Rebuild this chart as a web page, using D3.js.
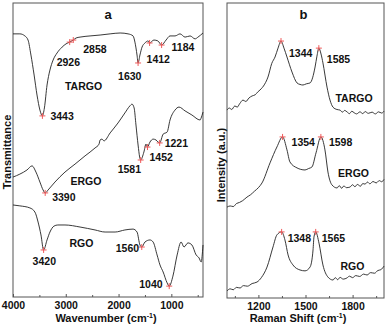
<!DOCTYPE html>
<html>
<head>
<meta charset="utf-8">
<script src="https://cdn.jsdelivr.net/npm/d3@7"></script>
<style>
body { margin: 0; background: #fff; }
text { font-family: Arial, "Liberation Sans", sans-serif; font-weight: bold; fill: #111; }
</style>
</head>
<body>
<svg width="387" height="327"></svg>
<script>
// panel a: FTIR, [wavenumber, transmittance (a.u.)]
var irTargo = [[4000,89.5],[3870,89.5],[3775,88.8],[3715,87.4],[3660,82.3],[3600,75.5],[3545,68.7],[3490,63.6],[3443,61.6],[3405,64.3],[3355,72.1],[3300,77.2],[3240,80.6],[3165,83.0],[3070,85.0],[2995,86.1],[2926,86.7],[2858,87.4],[2805,88.1],[2730,88.4],[2540,88.8],[2350,89.1],[2160,89.5],[1970,89.8],[1820,89.5],[1725,88.8],[1690,86.7],[1650,82.3],[1630,79.6],[1595,82.3],[1555,85.0],[1500,86.4],[1440,87.1],[1412,86.4],[1330,87.4],[1255,87.1],[1184,85.7],[1100,87.4],[1025,88.8],[930,88.8],[835,89.5],[740,88.4],[645,88.8],[550,87.8],[495,88.4],[400,89.8]];
var irErgo = [[4000,40.8],[3870,41.8],[3735,43.2],[3640,44.6],[3565,42.5],[3490,39.1],[3430,36.4],[3390,35.4],[3335,36.4],[3205,39.1],[3015,42.5],[2825,45.2],[2635,48.0],[2445,50.7],[2370,52.0],[2350,53.4],[2315,53.7],[2275,53.1],[2160,55.8],[2010,59.2],[1880,62.6],[1785,65.0],[1745,65.6],[1705,64.3],[1670,58.5],[1630,51.7],[1600,47.6],[1581,46.6],[1520,49.3],[1480,52.0],[1452,51.0],[1405,52.7],[1345,53.7],[1290,53.4],[1250,52.7],[1221,52.4],[1155,55.4],[1080,56.1],[1025,60.2],[930,63.6],[855,64.6],[740,63.3],[610,61.9],[455,60.2],[435,60.9],[400,62.9]];
var irRgo = [[4000,31.3],[3870,31.0],[3680,30.3],[3585,28.9],[3525,25.5],[3470,21.1],[3420,16.0],[3355,19.4],[3300,22.1],[3225,24.1],[3150,24.5],[3015,24.5],[2730,23.8],[2445,22.8],[2255,22.1],[2065,22.1],[1880,22.8],[1725,23.1],[1650,22.1],[1595,17.7],[1560,17.0],[1500,18.7],[1405,19.4],[1345,18.7],[1270,14.3],[1215,10.9],[1155,8.5],[1080,4.8],[1040,3.7],[970,7.1],[890,14.3],[815,18.7],[760,17.0],[685,18.4],[610,17.7],[530,14.3],[475,13.3],[435,11.9],[400,17.7]];
var irTargoPeaks = [3443,2926,2858,1630,1412,1184];
var irErgoPeaks = [3390,1581,1452,1221];
var irRgoPeaks = [3420,1560,1040];

// panel b: Raman, [shift, intensity (a.u.)]
var ramanTargo = [[1000,63.7],[1015,64.4],[1030,63.9],[1050,65.1],[1065,64.7],[1080,65.8],[1102,67.1],[1120,66.6],[1140,67.8],[1160,68.5],[1180,68.9],[1195,69.8],[1210,70.5],[1240,72.5],[1261,74.9],[1285,79.5],[1306,81.7],[1325,84.7],[1344,87.1],[1363,84.7],[1382,81.7],[1414,76.6],[1446,72.9],[1465,72.4],[1484,72.2],[1505,72.6],[1529,72.9],[1561,78.3],[1573,82.0],[1585,84.7],[1599,82.7],[1611,79.7],[1637,71.5],[1656,67.1],[1675,64.7],[1700,63.9],[1720,63.7],[1735,63.0],[1750,63.6],[1764,63.1],[1780,62.5],[1795,63.3],[1810,62.8],[1825,62.4],[1847,63.1],[1865,62.5],[1880,63.2],[1900,62.6],[1924,63.0],[1945,62.4],[1965,63.1],[1985,62.7],[2000,63.3]];
var ramanErgo = [[1000,30.8],[1020,31.2],[1040,31.0],[1060,32.0],[1080,32.4],[1100,33.0],[1127,34.2],[1150,35.0],[1175,36.2],[1200,37.4],[1223,39.0],[1274,45.8],[1318,51.2],[1354,54.6],[1382,50.2],[1401,46.1],[1446,44.1],[1470,43.6],[1497,43.4],[1520,43.9],[1541,44.4],[1567,49.2],[1598,54.6],[1624,50.2],[1643,42.7],[1669,38.3],[1701,37.3],[1715,38.1],[1730,37.2],[1745,38.0],[1760,37.4],[1783,37.6],[1800,38.4],[1815,37.7],[1830,38.5],[1850,37.9],[1865,38.8],[1879,38.6],[1895,39.3],[1910,38.7],[1930,39.5],[1950,39.0],[1970,39.8],[1985,39.4],[2000,40.2]];
var ramanRgo = [[1000,2.4],[1020,3.1],[1040,2.8],[1060,3.6],[1083,3.4],[1105,4.2],[1130,4.0],[1160,4.9],[1191,5.4],[1220,7.0],[1255,10.5],[1293,17.3],[1318,21.4],[1348,22.4],[1369,19.7],[1389,14.6],[1420,11.2],[1465,9.5],[1497,9.2],[1529,10.5],[1548,16.3],[1554,20.7],[1565,22.4],[1586,18.6],[1611,11.2],[1643,7.1],[1675,6.1],[1690,6.9],[1705,6.2],[1720,7.0],[1740,6.4],[1764,6.8],[1780,7.4],[1800,6.9],[1820,7.6],[1845,7.3],[1870,8.1],[1892,7.8],[1915,8.6],[1940,8.4],[1960,9.3],[1980,9.6],[2000,10.8]];
var ramanTargoPeaks = [1344,1585];
var ramanErgoPeaks = [1354,1598];
var ramanRgoPeaks = [1348,1565];

var irTicks = [4000,3000,2000,1000];
var irMinorTicks = [3500,2500,1500,500];
var ramanTicks = [1200,1500,1800];
var ramanMinorTicks = [1050,1350,1650,1950];

var svg = d3.select('svg');

// label placement relative to the peak marker (px)
var labelShift = {
    3443:[8,0], 2926:[-13,20], 2858:[10,9], 1630:[-20,13], 1412:[-3,16], 1184:[10,2],
    3390:[7,4], 1581:[-23,9], 1452:[2,10], 1221:[5,0],
    3420:[-11,11], 1560:[-26,1], 1040:[-30,-2],
    1344:[8,12], 1585:[8,11], 1354:[9,5], 1598:[8,5], 1348:[6,6], 1565:[6,6]
};

function drawPanel(opt) {
    var x = d3.scaleLinear().domain(opt.xDomain).range([opt.left, opt.right]);
    var y = d3.scaleLinear().domain([0, 100]).range([opt.bottom, opt.top]);
    var g = svg.append('g');

    g.append('rect')
        .attr('x', opt.left).attr('y', opt.top)
        .attr('width', opt.right - opt.left).attr('height', opt.bottom - opt.top)
        .attr('fill', 'none').attr('stroke', '#555').attr('stroke-width', 1);

    var ax = g.append('g')
        .attr('transform', 'translate(0,' + opt.bottom + ')')
        .call(d3.axisBottom(x).tickValues(opt.ticks).tickSize(-3).tickPadding(5).tickFormat(d3.format('d')));
    ax.select('.domain').remove();
    ax.selectAll('line').attr('stroke', '#555');
    ax.selectAll('text').style('font-size', '10.5px').attr('fill', '#111');
    g.append('g')
        .attr('transform', 'translate(0,' + opt.bottom + ')')
        .call(d3.axisBottom(x).tickValues(opt.minor).tickSize(-2).tickFormat(''))
        .call(function (s) { s.select('.domain').remove(); s.selectAll('line').attr('stroke', '#555'); });

    var line = d3.line()
        .x(function (d) { return x(d[0]); })
        .y(function (d) { return y(d[1]); })
        .curve(d3.curveMonotoneX);

    opt.series.forEach(function (s) {
        g.append('path').datum(s.data)
            .attr('d', line)
            .attr('fill', 'none').attr('stroke', '#222').attr('stroke-width', 0.9);

        var pk = s.peaks.map(function (p) {
            return s.data.find(function (d) { return d[0] === p; });
        });
        g.selectAll(null).data(pk).enter().append('path')
            .attr('transform', function (d) { return 'translate(' + x(d[0]) + ',' + y(d[1]) + ')'; })
            .attr('d', 'M-3,0H3M0,-3V3')
            .attr('stroke', '#ef5a5a').attr('stroke-width', 1);
        g.selectAll(null).data(pk).enter().append('text')
            .attr('x', function (d) { return x(d[0]) + labelShift[d[0]][0]; })
            .attr('y', function (d) { return y(d[1]) + labelShift[d[0]][1]; })
            .attr('dy', '0.35em')
            .style('font-size', '10.5px')
            .text(function (d) { return d[0]; });

        g.append('text')
            .attr('x', x(s.nameAt[0])).attr('y', y(s.nameAt[1]))
            .attr('dy', '0.35em').attr('text-anchor', 'middle')
            .style('font-size', '10.5px')
            .text(s.name);
    });

    g.append('text')
        .attr('x', (opt.left + opt.right) / 2 + opt.titleDx).attr('y', opt.top + 11)
        .attr('dy', '0.35em').attr('text-anchor', 'middle')
        .style('font-size', '13px')
        .text(opt.title);

    var xt = g.append('text')
        .attr('x', opt.xLabelX).attr('y', 322)
        .attr('text-anchor', 'middle')
        .style('font-size', '11px');
    xt.append('tspan').text(opt.xLabel + ' (cm');
    xt.append('tspan').attr('dy', -4).style('font-size', '7px').text('-1');
    xt.append('tspan').attr('dy', 4).text(')');

    g.append('text')
        .attr('transform', 'translate(' + opt.yLabelX + ',' + opt.yLabelY + ') rotate(-90)')
        .attr('text-anchor', 'middle').attr('dy', '0.35em')
        .style('font-size', '11px')
        .text(opt.yLabel);
}

drawPanel({
    left: 13, right: 203, top: 3, bottom: 297,
    xDomain: [4000, 400], ticks: irTicks, minor: irMinorTicks,
    title: 'a', titleDx: 0,
    xLabel: 'Wavenumber', xLabelX: 106,
    yLabel: 'Transmittance', yLabelX: 7, yLabelY: 152,
    series: [
        { name: 'TARGO', data: irTargo, peaks: irTargoPeaks, nameAt: [2664, 71.8] },
        { name: 'ERGO', data: irErgo, peaks: irErgoPeaks, nameAt: [2617, 39.5] },
        { name: 'RGO', data: irRgo, peaks: irRgoPeaks, nameAt: [2702, 18.4] }
    ]
});

drawPanel({
    left: 227, right: 384, top: 3, bottom: 298,
    xDomain: [1000, 2000], ticks: ramanTicks, minor: ramanMinorTicks,
    title: 'b', titleDx: -2,
    xLabel: 'Raman Shift', xLabelX: 298,
    yLabel: 'Intensity (a.u.)', yLabelX: 221, yLabelY: 165,
    series: [
        { name: 'TARGO', data: ramanTargo, peaks: ramanTargoPeaks, nameAt: [1809, 67.8] },
        { name: 'ERGO', data: ramanErgo, peaks: ramanErgoPeaks, nameAt: [1806, 42.4] },
        { name: 'RGO', data: ramanRgo, peaks: ramanRgoPeaks, nameAt: [1799, 10.8] }
    ]
});
</script>
</body>
</html>
